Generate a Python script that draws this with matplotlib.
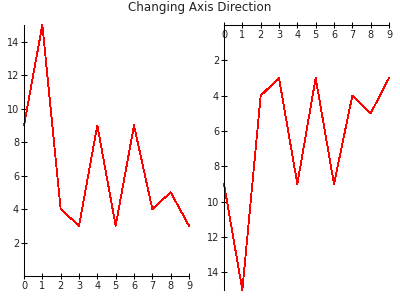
import matplotlib
matplotlib.use("Agg")
import matplotlib.pyplot as plt

x_values = [0, 1, 2, 3, 4, 5, 6, 7, 8, 9]
y_values = [9, 15, 4, 3, 9, 3, 9, 4, 5, 3]
x_ticks = [0, 1, 2, 3, 4, 5, 6, 7, 8, 9]
y_ticks = [2, 4, 6, 8, 10, 12, 14]
title = "Changing Axis Direction"

plt.rcParams['font.family'] = ['DejaVu Sans']
fig = plt.figure(figsize=(4, 3), dpi=100)
fig.patch.set_facecolor('white')
text_color = '#222222'

ax1 = fig.add_axes([24/400, 1-276/300, 165/400, 251/300])
ax2 = fig.add_axes([224/400, 1-290/300, 165/400, 265/300])

for ax in (ax1, ax2):
    ax.plot(x_values, y_values, color='red', lw=0.6, antialiased=False, clip_on=False)
    ax.set_xlim(0, 9)
    ax.set_ylim(0, 15)
    ax.set_xticks(x_ticks)
    ax.set_yticks(y_ticks)
    ax.spines['right'].set_visible(False)
    ax.spines['top'].set_visible(False)
    for s in ('left', 'bottom'):
        ax.spines[s].set_linewidth(0.75)
        ax.spines[s].set_color('black')
    ax.tick_params(direction='inout', length=5, width=0.75, labelsize=7,
                   labelcolor=text_color, color='black', pad=1)
    ax.patch.set_alpha(0)

ax2.invert_yaxis()
ax2.spines['bottom'].set_position(('data', 0))
ax2.spines['left'].set_bounds(0, 15)

fig.suptitle(title, y=0.995, fontsize=8.6, color=text_color)
fig.savefig('out.png', dpi=100)
